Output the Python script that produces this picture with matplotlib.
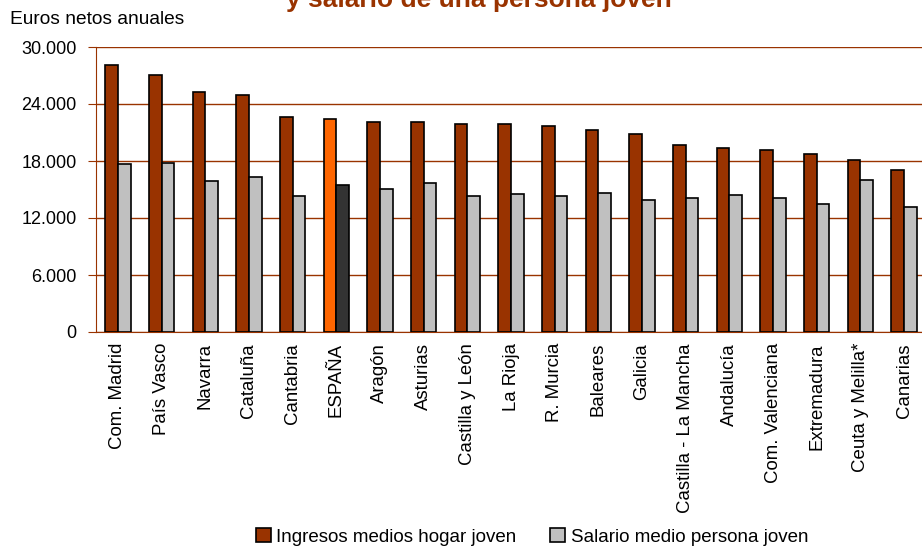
import matplotlib.pyplot as plt
import numpy as np

plt.rcParams['font.family'] = ['Liberation Sans', 'DejaVu Sans']

# datos
regiones = ['Com. Madrid', 'País Vasco', 'Navarra', 'Cataluña', 'Cantabria', 'ESPAÑA',
            'Aragón', 'Asturias', 'Castilla y León', 'La Rioja', 'R. Murcia', 'Baleares',
            'Galicia', 'Castilla - La Mancha', 'Andalucía', 'Com. Valenciana',
            'Extremadura', 'Ceuta y Melilla*', 'Canarias']
ingresos_hogar = [28100, 27050, 25300, 24900, 22600, 22450, 22100, 22100, 21900, 21850,
                  21700, 21300, 20800, 19700, 19400, 19200, 18700, 18100, 17100]
salario_persona = [17700, 17800, 15900, 16350, 14300, 15500, 15100, 15700, 14350, 14560,
                   14350, 14600, 13900, 14100, 14400, 14100, 13500, 16000, 13200]
yticks = [0, 6000, 12000, 18000, 24000, 30000]
ytick_labels = ['0', '6.000', '12.000', '18.000', '24.000', '30.000']

marron = '#993300'
gris = '#C0C0C0'

x = np.arange(len(regiones))
col1 = [('#FF6600' if r == 'ESPAÑA' else marron) for r in regiones]
col2 = [('#333333' if r == 'ESPAÑA' else gris) for r in regiones]

fig = plt.figure(figsize=(9.22, 5.46), dpi=100)
ax = fig.add_axes([96 / 922, 1 - 332 / 546, 830 / 922, 285 / 546])

w = 0.29
ax.bar(x - w, ingresos_hogar, w, align='edge', color=col1, edgecolor='black',
       linewidth=1.2, label='Ingresos medios hogar joven', zorder=3)
ax.bar(x, salario_persona, w, align='edge', color=col2, edgecolor='black',
       linewidth=1.2, label='Salario medio persona joven', zorder=3)

ax.set_xlim(-0.5, len(regiones) - 0.5)
ax.set_ylim(0, 30000)
ax.set_yticks(yticks)
ax.set_yticklabels(ytick_labels, fontsize=13)
ax.set_xticks(x)
ax.set_xticklabels(regiones, rotation=90, fontsize=13.4)
ax.tick_params(axis='x', length=0, pad=8)
ax.tick_params(axis='y', length=6, color=marron, pad=8)
ax.grid(axis='y', color=marron, linewidth=1, zorder=0)
for s in ['top', 'right']:
    ax.spines[s].set_visible(False)
for s in ['left', 'bottom']:
    ax.spines[s].set_color(marron)

fig.text(10 / 922, 1 - 20 / 546, 'Euros netos anuales', fontsize=13.8, va='center', ha='left')
fig.text(479 / 922, 1 - 7 / 546, 'y salario de una persona joven', fontsize=19,
         fontweight='bold', color=marron, ha='center', va='baseline')

h, l = ax.get_legend_handles_labels()
fig.legend(h, l, loc='lower center', bbox_to_anchor=(0.577, -0.03), ncol=2,
           frameon=False, fontsize=13.5, handlelength=0.8, handleheight=0.8,
           handletextpad=0.3, columnspacing=1.8)

fig.savefig('out.png', dpi=100)
